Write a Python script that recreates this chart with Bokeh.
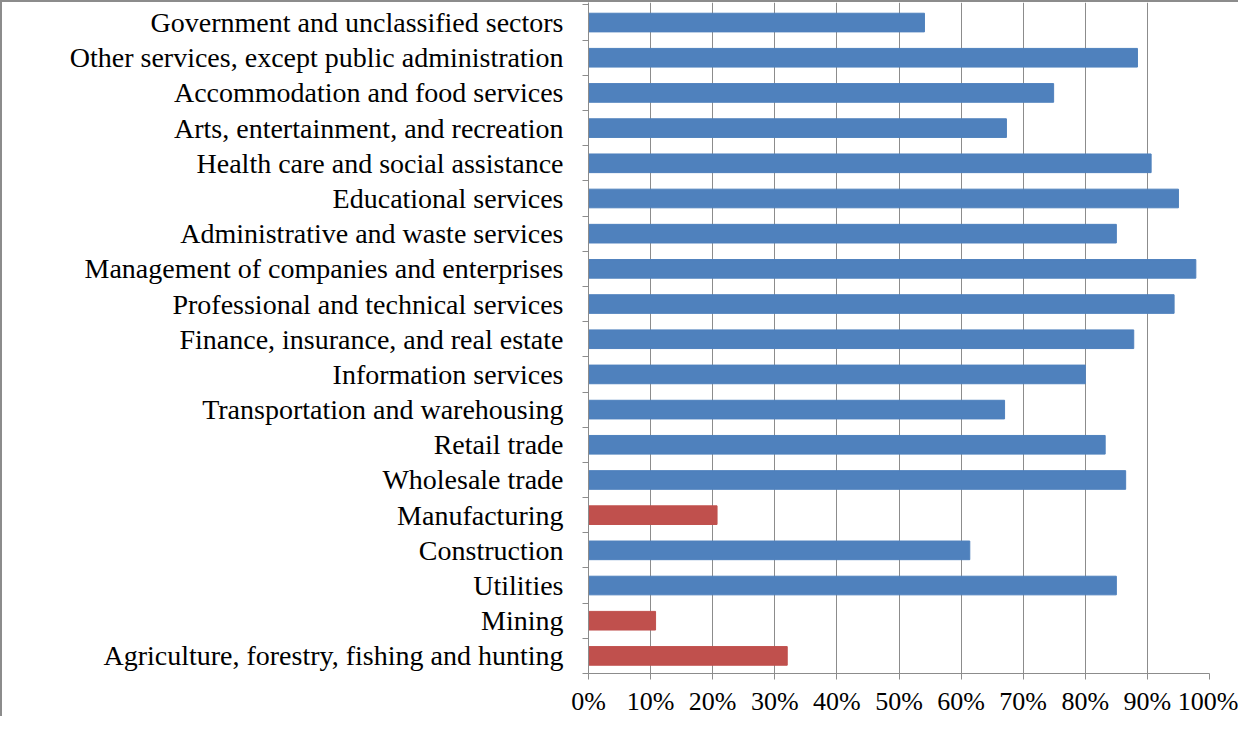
from bokeh.plotting import figure
from bokeh.models import FixedTicker, Range1d, ColumnDataSource
from bokeh.embed import file_html
from bokeh.resources import INLINE

# Sectors listed bottom to top
sectors = [
    "Agriculture, forestry, fishing and hunting",
    "Mining",
    "Utilities",
    "Construction",
    "Manufacturing",
    "Wholesale trade",
    "Retail trade",
    "Transportation and warehousing",
    "Information services",
    "Finance, insurance, and real estate",
    "Professional and technical services",
    "Management of companies and enterprises",
    "Administrative and waste services",
    "Educational services",
    "Health care and social assistance",
    "Arts, entertainment, and recreation",
    "Accommodation and food services",
    "Other services, except public administration",
    "Government and unclassified sectors",
]
shares = [32.0, 10.8, 85.0, 61.4, 20.7, 86.5, 83.2, 67.0, 80.0, 87.8,
          94.3, 97.8, 85.0, 95.0, 90.6, 67.3, 74.9, 88.4, 54.1]
highlight = [True, True, False, False, True] + [False] * 14
x_ticks = [0, 10, 20, 30, 40, 50, 60, 70, 80, 90, 100]
x_tick_labels = [f"{t}%" for t in x_ticks]

BLUE = "#4F81BD"
RED = "#C0504D"
GRID = "#8c8c8c"
FONT = "Liberation Serif"

idx = list(range(len(sectors)))
colors = [RED if h else BLUE for h in highlight]
src = ColumnDataSource(dict(y=idx, right=shares, color=colors))

p = figure(width=1238, height=716, output_backend="svg", toolbar_location=None,
           x_range=Range1d(0, 100), y_range=Range1d(-0.5, 18.57),
           min_border_left=586, min_border_right=31, min_border_top=0,
           min_border_bottom=42)
p.styles = {"border-left": "2px solid #8c8c8c", "border-top": "2px solid #8c8c8c"}

p.hbar(y="y", left=0, right="right", height=0.53, color="color",
       line_color="color", source=src)

p.outline_line_color = None
p.background_fill_color = "white"
p.border_fill_color = "white"

# x axis
p.xaxis.ticker = FixedTicker(ticks=x_ticks)
p.xaxis.major_label_overrides = {t: l for t, l in zip(x_ticks, x_tick_labels)}
p.xaxis.axis_line_color = GRID
p.xaxis.major_tick_line_color = GRID
p.xaxis.major_tick_out = 6
p.xaxis.major_tick_in = 0
p.xaxis.minor_tick_line_color = None
p.xaxis.major_label_text_font = FONT
p.xaxis.major_label_text_font_size = "26px"
p.xaxis.major_label_text_color = "black"
p.xaxis.major_label_standoff = 7

p.xgrid.ticker = FixedTicker(ticks=x_ticks)
p.xgrid.grid_line_color = GRID
p.xgrid.grid_line_width = 1

# y axis
bounds = [i - 0.5 for i in range(len(sectors) + 1)]
p.yaxis.ticker = FixedTicker(ticks=idx, minor_ticks=bounds)
p.yaxis.major_label_overrides = {i: s for i, s in enumerate(sectors)}
p.yaxis.axis_line_color = GRID
p.yaxis.major_tick_line_color = None
p.yaxis.major_tick_out = 0
p.yaxis.major_tick_in = 0
p.yaxis.minor_tick_line_color = GRID
p.yaxis.minor_tick_out = 6
p.yaxis.minor_tick_in = 0
p.yaxis.major_label_text_font = FONT
p.yaxis.major_label_text_font_size = "28px"
p.yaxis.major_label_text_color = "black"
p.yaxis.major_label_standoff = 19
p.ygrid.grid_line_color = None

open("out.html", "w").write(file_html(p, INLINE))
